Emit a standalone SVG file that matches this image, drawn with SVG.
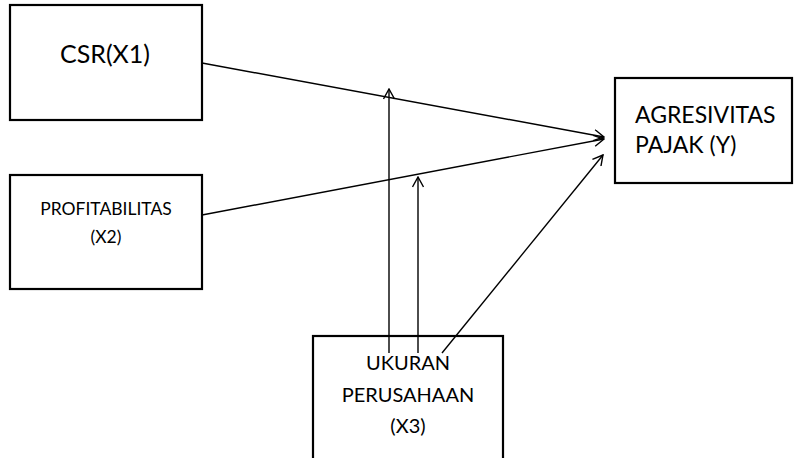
<svg xmlns="http://www.w3.org/2000/svg" width="794" height="458" viewBox="0 0 794 458">
<defs>
<style>
.box{fill:#fff;stroke:#000;stroke-width:2.2}
.t{font-family:Lato,"Open Sans","Liberation Sans",sans-serif;fill:#000}
.c{stroke:#000;stroke-width:1.4;fill:none}
</style>
<marker id="a" viewBox="0 0 12 12" refX="11" refY="6" markerWidth="12" markerHeight="12" markerUnits="userSpaceOnUse" orient="auto">
<path d="M1,0.5 L11,6 L1,11.5" fill="none" stroke="#000" stroke-width="1.4"/>
</marker>
</defs>
<rect width="794" height="458" fill="#fff"/>
<g id="csr">
<rect class="box" x="10" y="5" width="192" height="115"/>
<text class="t" x="105" y="63" font-size="25" text-anchor="middle">CSR(X1)</text>
</g>
<g id="profitabilitas">
<rect class="box" x="10" y="175" width="192" height="114"/>
<text class="t" x="106" y="215" font-size="17.5" text-anchor="middle">PROFITABILITAS</text>
<text class="t" x="106" y="243" font-size="17.5" text-anchor="middle">(X2)</text>
</g>
<g id="ukuran">
<rect class="box" x="313" y="336" width="190" height="140"/>
<text class="t" x="408" y="370" font-size="20" text-anchor="middle">UKURAN</text>
<text class="t" x="408" y="402" font-size="20" text-anchor="middle">PERUSAHAAN</text>
<text class="t" x="408" y="433" font-size="20" text-anchor="middle">(X3)</text>
</g>
<g id="agresivitas">
<rect class="box" x="615" y="78" width="177" height="105"/>
<text class="t" x="635" y="123" font-size="23">AGRESIVITAS</text>
<text class="t" x="635" y="153" font-size="23">PAJAK (Y)</text>
</g>
<g id="connectors">
<line class="c" x1="202" y1="63" x2="604" y2="137" marker-end="url(#a)"/>
<line class="c" x1="202" y1="215" x2="604" y2="139" marker-end="url(#a)"/>
<line class="c" x1="442" y1="353" x2="603" y2="155" marker-end="url(#a)"/>
<line class="c" x1="389" y1="353" x2="389" y2="89" marker-end="url(#a)"/>
<line class="c" x1="418" y1="353" x2="418" y2="177" marker-end="url(#a)"/>
</g>
</svg>
